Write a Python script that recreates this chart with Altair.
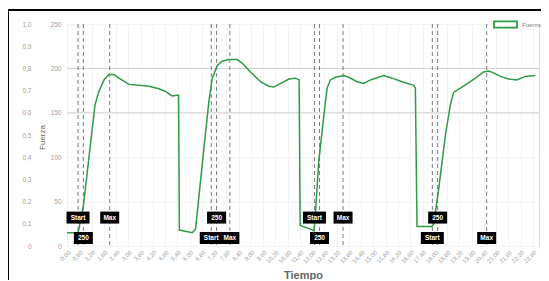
import altair as alt
import pandas as pd

# ---- data ----
time_s = [0, 0.54, 0.80, 1.37, 1.56, 1.81, 2.05, 2.30, 2.54, 3.03, 3.52, 4.01, 4.50, 4.82, 5.14, 5.46,
          5.50, 6.13, 6.29, 6.70, 6.94, 7.11, 7.35, 7.59, 7.92, 8.33, 8.57, 8.98, 9.47, 9.88, 10.12,
          10.37, 10.86, 11.18, 11.36, 11.41, 11.92, 12.08, 12.13, 12.32, 12.57, 12.73, 12.89, 13.14,
          13.55, 13.79, 14.20, 14.52, 14.85, 15.50, 15.91, 16.40, 16.97, 17.05, 17.13, 17.86, 17.95,
          18.19, 18.52, 18.76, 18.92, 19.33, 19.99, 20.39, 20.64, 20.88, 21.21, 21.61, 22.02, 22.43, 22.92]
fuerza = [15, 15, 45, 159, 174, 187, 193, 193, 189, 182, 181, 180, 177, 174, 169, 170,
          18, 15, 19, 110, 162, 189, 203, 208, 210, 210, 206, 196, 185, 180, 179,
          182, 188, 189, 187, 23, 19, 17, 27, 95, 147, 178, 187, 190,
          192, 190, 185, 183, 187, 192, 189, 185, 181, 178, 22, 22, 25,
          64, 125, 159, 173, 179, 189, 196, 197, 195, 191, 188, 187, 191, 192]

start_t = [0.54, 7.06, 12.11, 17.88]
p250_t = [0.80, 7.32, 12.36, 18.14]
max_t = [2.09, 7.97, 13.51, 20.54]
start_row = ["up", "down", "up", "down"]
p250_row = ["down", "up", "down", "up"]
max_row = ["up", "down", "up", "down"]

ref_levels = [150, 200]
x_ticks = [round(i * 0.6, 2) for i in range(39)]
y_ticks = [0, 50, 100, 150, 200, 250]
y2_ticks = [round(i * 0.1, 1) for i in range(11)]

GREEN = "#2f9a47"
FONT = "Liberation Sans"
row_value = {"up": 32, "down": 9}

df = pd.DataFrame({"t": time_s, "f": fuerza, "s": "Fuerza"})
ann = pd.DataFrame({
    "t": start_t + p250_t + max_t,
    "label": ["Start"] * 4 + ["250"] * 4 + ["Max"] * 4,
    "row": start_row + p250_row + max_row,
})
ann["y"] = ann["row"].map(row_value)

x_scale = alt.Scale(domain=[0, 23.1], nice=False, zero=False)
y_scale = alt.Scale(domain=[0, 250], nice=False)

x_axis = alt.Axis(values=x_ticks, labelAngle=-45, labelFontSize=6, labelColor="#a0a0a0",
                  labelExpr="replace(format(datum.value, '.2f'), '.', ',')",
                  domain=False, ticks=False, labelPadding=3, gridColor="#f3f3f3",
                  title="Tiempo", titleFontSize=11, titleFontWeight="bold", titleColor="#666",
                  titleY=32, titleBaseline="alphabetic", labelOverlap=False)
y_axis = alt.Axis(values=y_ticks, labelFontSize=6.5, labelColor="#a0a0a0", domain=False, ticks=False,
                  labelPadding=6, gridColor="#f3f3f3", orient="left",
                  title="Fuerza", titleFontSize=8, titleFontWeight="normal", titleColor="#666",
                  titleX=-25, titleY=113, titleBaseline="middle")

X = lambda: alt.X("t:Q", scale=x_scale, axis=x_axis)

line = alt.Chart(df).mark_line(strokeWidth=1.5).encode(
    x=X(),
    y=alt.Y("f:Q", scale=y_scale, axis=y_axis),
    color=alt.Color("s:N", scale=alt.Scale(range=[GREEN]),
                    legend=alt.Legend(title=None, orient="none", legendX=426, legendY=-12,
                                      symbolType="M-1,-0.27H1V0.27H-1Z", symbolSize=529,
                                      symbolStrokeWidth=1.8, symbolStrokeColor=GREEN,
                                      symbolFillColor="white", labelFontSize=6,
                                      labelColor="#888", labelFont=FONT, padding=0)),
)

hlines = alt.Chart(pd.DataFrame({"g": ref_levels})).mark_rule(color="#d2d2d2", strokeWidth=1).encode(
    y=alt.Y("g:Q", scale=y_scale, axis=y_axis)
)

vlines = alt.Chart(ann).mark_rule(color="#7a7a7a", strokeWidth=1, strokeDash=[4, 3]).encode(
    x=X()
)

def boxes(labels, path, size):
    sub = ann[ann["label"].isin(labels)]
    return alt.Chart(sub).mark_point(shape=path, size=size, filled=True, color="black", opacity=1).encode(
        x=X(), y=alt.Y("y:Q", scale=y_scale, axis=y_axis)
    )

box_start = boxes(["Start"], "M-1,-0.52H1V0.52H-1Z", 529)
box_other = boxes(["250", "Max"], "M-1,-0.63H1V0.63H-1Z", 361)

texts = alt.Chart(ann).mark_text(color="white", fontSize=6.5, fontWeight="bold", font=FONT,
                                 baseline="middle").encode(
    x=X(), y=alt.Y("y:Q", scale=y_scale, axis=y_axis), text="label:N"
)

frame_top = alt.Chart(pd.DataFrame({"a": [0]})).mark_rule(color="black", strokeWidth=2).encode(
    x=alt.value(-60), x2=alt.value(480), y=alt.value(-14)
)
frame_left = alt.Chart(pd.DataFrame({"a": [0]})).mark_rule(color="black", strokeWidth=2).encode(
    x=alt.value(-59), y=alt.value(-14), y2=alt.value(260)
)

main = alt.layer(hlines, vlines, line, box_start, box_other, texts, frame_top, frame_left)

dummy = alt.Chart(pd.DataFrame({"v": [0, 1]})).mark_rule(opacity=0).encode(
    y=alt.Y("v:Q", scale=alt.Scale(domain=[0, 1], nice=False),
            axis=alt.Axis(orient="left", values=y2_ticks, offset=32, labelPadding=4, grid=False,
                          domain=False, ticks=False, labelFontSize=6.5, labelColor="#a0a0a0",
                          labelExpr="datum.value == 0 ? '0' : replace(format(datum.value, '.1f'), '.', ',')",
                          title=None))
)

chart = alt.layer(main, dummy).resolve_scale(y="independent").properties(
    width=472, height=222,
    padding={"left": 59, "top": 16, "right": 2, "bottom": 34},
    autosize=alt.AutoSizeParams(type="none"),
).configure_view(stroke=None).configure(font=FONT)

chart.save("out.html", embed_options={"renderer": "svg", "actions": False})
